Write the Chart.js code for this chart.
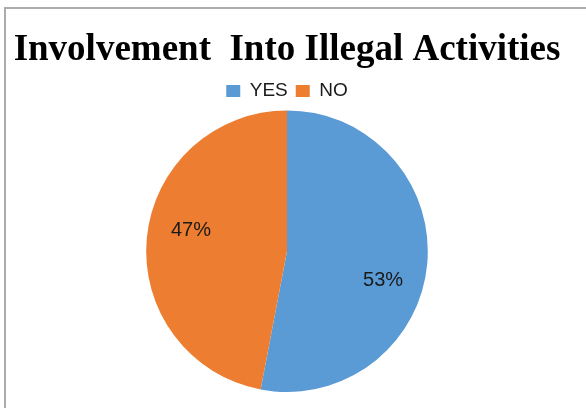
<!DOCTYPE html>
<html>
<head>
<meta charset="utf-8">
<script src="https://cdn.jsdelivr.net/npm/chart.js@4.4.0/dist/chart.umd.min.js"></script>
<style>
    html, body { margin: 0; padding: 0; background: #ffffff; overflow: hidden; }
    #wrap { position: relative; width: 586px; height: 408px; }
    #frame { position: absolute; left: 4px; top: 7px; width: 620px; height: 440px; border: 2px solid #acacac; box-sizing: border-box; }
    #pieChart { position: absolute; left: 0; top: 0; }
</style>
</head>
<body>
<div id="wrap">
    <div id="frame"></div>
    <canvas id="pieChart" width="586" height="408"></canvas>
</div>
<script>
const chartTitle = 'Involvement  Into Illegal Activities';
const categories = ['YES', 'NO'];
const shares = [53, 47];
const sliceColors = ['#5b9bd5', '#ed7d31'];

// percentage labels inside the slices
const sliceLabels = {
    id: 'sliceLabels',
    afterDatasetsDraw(chart) {
        const ctx = chart.ctx;
        const meta = chart.getDatasetMeta(0);
        ctx.save();
        ctx.font = '20px "Liberation Sans", Arial, sans-serif';
        ctx.fillStyle = '#1a1a1a';
        ctx.textAlign = 'center';
        ctx.textBaseline = 'middle';
        meta.data.forEach((arc, i) => {
            const p = arc.getProps(['x', 'y', 'startAngle', 'endAngle', 'outerRadius'], true);
            const mid = (p.startAngle + p.endAngle) / 2 + 0.16;
            const r = p.outerRadius * 0.705;
            ctx.fillText(shares[i] + '%', p.x + Math.cos(mid) * r, p.y + Math.sin(mid) * r + 4);
        });
        ctx.restore();
    }
};

const ctx = document.getElementById('pieChart').getContext('2d');
window.pieChart = new Chart(ctx, {
    type: 'pie',
    data: {
        labels: categories,
        datasets: [{
            data: shares,
            backgroundColor: sliceColors,
            borderWidth: 0
        }]
    },
    options: {
        responsive: false,
        animation: false,
        layout: { padding: { top: 0, left: 0, right: 12, bottom: 16 } },
        plugins: {
            title: {
                display: true,
                text: chartTitle,
                color: '#000000',
                font: { family: '"Liberation Serif", "Times New Roman", serif', size: 37, weight: 'bold' },
                padding: { top: 28, bottom: 1 }
            },
            legend: {
                position: 'top',
                labels: {
                    color: '#1a1a1a',
                    font: { family: '"Liberation Sans", Arial, sans-serif', size: 19 },
                    boxWidth: 14,
                    boxHeight: 12,
                    padding: 8
                }
            },
            tooltip: { enabled: false }
        }
    },
    plugins: [sliceLabels]
});
</script>
</body>
</html>
